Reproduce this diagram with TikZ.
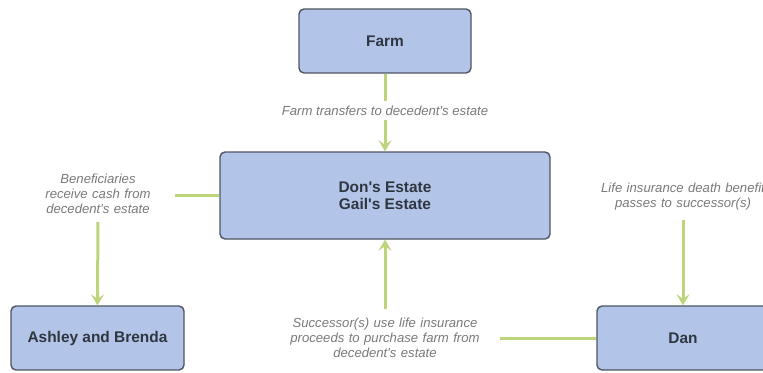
\documentclass[tikz,border=0pt]{standalone}
\usepackage{fontspec}
\setmainfont{Liberation Sans}
\usetikzlibrary{arrows.meta}
\definecolor{boxfill}{HTML}{B2C5E8}
\definecolor{boxline}{HTML}{4F5561}
\definecolor{boxtext}{HTML}{2F3640}
\definecolor{lnk}{HTML}{BDD57A}
\definecolor{lbltext}{HTML}{7A7A7A}
\newcommand{\apo}{\textquotesingle}
\tikzset{
  boxnode/.style={draw=boxline, line width=1.4bp, fill=boxfill, rounded corners=5bp,
    font=\fontsize{15.5}{17}\selectfont\bfseries, text=boxtext, align=center, inner sep=0pt},
  lblnode/.style={font=\fontsize{13.2}{15}\selectfont\itshape, text=lbltext, align=center, inner sep=0pt},
  link/.style={draw=lnk, line width=3bp},
  linkarrow/.style={link, -{Stealth[length=11bp,width=13bp,inset=4.5bp]}},
}
\begin{document}
\begin{tikzpicture}[x=1bp,y=-1bp]
\useasboundingbox (0,0) rectangle (763,372);
\fill[white] (0,0) rectangle (763,372);
% boxes
\node[boxnode, minimum width=172bp, minimum height=64bp] (farm) at (385,41) {Farm};
\node[boxnode, minimum width=330bp, minimum height=87bp] (estate) at (385,195.5) {Don\apo s Estate\\Gail\apo s Estate};
\node[boxnode, minimum width=173bp, minimum height=64bp] (ab) at (97.5,338) {Ashley and Brenda};
\node[boxnode, minimum width=172bp, minimum height=64bp] (dan) at (683,338) {Dan};
% labels
\node[lblnode] (lfarm) at (385,111) {Farm transfers to decedent\apo s estate};
\node[lblnode, text width=110bp] (lben) at (98,194) {Beneficiaries\\receive cash from\\decedent\apo s estate};
\node[lblnode, text width=170bp] (llife) at (683,196.5) {Life insurance death benefit\\passes to successor(s)};
\node[lblnode, text width=200bp] (lsucc) at (385,338) {Successor(s) use life insurance\\proceeds to purchase farm from\\decedent\apo s estate};
% connectors
\draw[link, shorten >=5bp] (farm.south) -- (lfarm.north);
\draw[linkarrow, shorten <=4bp] (lfarm.south) -- (estate.north);
\draw[link] (estate.west) -- ([xshift=22bp]lben.east |- estate.west);
\draw[linkarrow, shorten <=8bp] (lben.south) -- (ab.north);
\draw[linkarrow, shorten <=10bp] (llife.south) -- (dan.north);
\draw[link] (dan.west) -- ([xshift=15bp]lsucc.east |- dan.west);
\draw[linkarrow, shorten <=9bp] (lsucc.north) -- (estate.south);
\end{tikzpicture}
\end{document}
